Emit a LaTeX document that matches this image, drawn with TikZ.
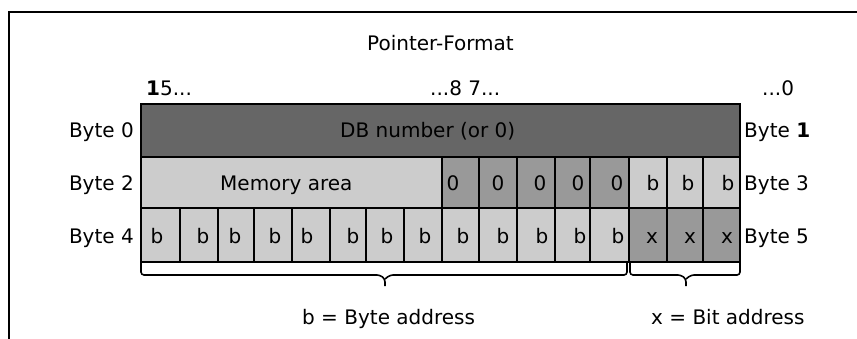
\documentclass[tikz,border=0pt]{standalone}
\usepackage{fontspec}
\setmainfont{DejaVu Sans}
\definecolor{darkg}{HTML}{666666}
\definecolor{midg}{HTML}{999999}
\definecolor{lightg}{HTML}{CCCCCC}
\begin{document}
\begin{tikzpicture}[x=1pt,y=-1pt,
  lbl/.style={font=\fontsize{20}{24}\selectfont, inner sep=0pt, anchor=base},
  lblw/.style={lbl, anchor=base west},
  lble/.style={lbl, anchor=base east},
  cellline/.style={draw=black, line width=1.3pt},
  thickline/.style={draw=black, line width=2pt},
  bracel/.style={draw=black, line width=1.6pt, rounded corners=3pt}]
\useasboundingbox (0,0) rectangle (857,338);
% frame
\draw[line width=1.6pt] (9,345) -- (9,12) -- (865,12);
% title and bit numbers
\node[lblw] (title) at (367,50) {Pointer-Format};
\node[lblw] (h15) at (146,95) {\textbf{1}5...};
\node[lblw] (h87) at (430,95) {...8 7...};
\node[lblw] (h0) at (762,95) {...0};
% row 1
\path[cellline, fill=darkg] (141,104) rectangle (740,157);
\node[lblw] (db) at (340,137) {DB number (or 0)};
% row 2
\path[cellline, fill=lightg] (141,157) rectangle (442,208);
\node[lblw] (mem) at (220,190) {Memory area};
\foreach \a/\b/\t [count=\i] in {442/479/453,479/517/498,517/555/540,555/590/578,590/629/617}{
  \path[cellline, fill=midg] (\a,157) rectangle (\b,208);
  \node[lbl] (z\i) at (\t,190) {0};
}
\foreach \a/\b/\t [count=\i] in {629/667/653,667/703/688,703/740/728}{
  \path[cellline, fill=lightg] (\a,157) rectangle (\b,208);
  \node[lbl] (bb\i) at (\t,190) {b};
}
% row 3
\foreach \a/\b/\t [count=\i] in {141/180/157,180/218/203,218/254/235,254/292/275,292/330/307,330/366/353,366/404/387,404/442/425,442/479/463,479/517/503,517/555/542,555/590/580,590/629/618}{
  \path[cellline, fill=lightg] (\a,208) rectangle (\b,262);
  \node[lbl] (b\i) at (\t,243) {b};
}
\foreach \a/\b/\t [count=\i] in {629/667/652,667/703/690,703/740/727}{
  \path[cellline, fill=midg] (\a,208) rectangle (\b,262);
  \node[lbl] (x\i) at (\t,243) {x};
}
% thick outlines
\draw[thickline] (141,104) rectangle (740,262);
\draw[thickline] (141,157) -- (740,157);
\draw[thickline] (141,208) -- (740,208);
% byte labels
\node[lble] (by0) at (134,137) {Byte 0};
\node[lble] (by2) at (134,190) {Byte 2};
\node[lble] (by4) at (134,243) {Byte 4};
\node[lblw] (by1) at (744,137) {Byte \textbf{1}};
\node[lblw] (by3) at (744,190) {Byte 3};
\node[lblw] (by5) at (744,243) {Byte 5};
% braces
\draw[bracel] (141,263) -- (141,275) -- (380,275) -- (385,279) -- (385,286);
\draw[bracel] (627,263) -- (627,275) -- (390,275) -- (385,279);
\draw[bracel] (630,263) -- (630,275) -- (681,275) -- (686,279) -- (686,286);
\draw[bracel] (740,263) -- (740,275) -- (691,275) -- (686,279);
% legends
\node[lblw] (lb) at (302,324) {b = Byte address};
\node[lblw] (lx) at (651,324) {x = Bit address};
\end{tikzpicture}
\end{document}
